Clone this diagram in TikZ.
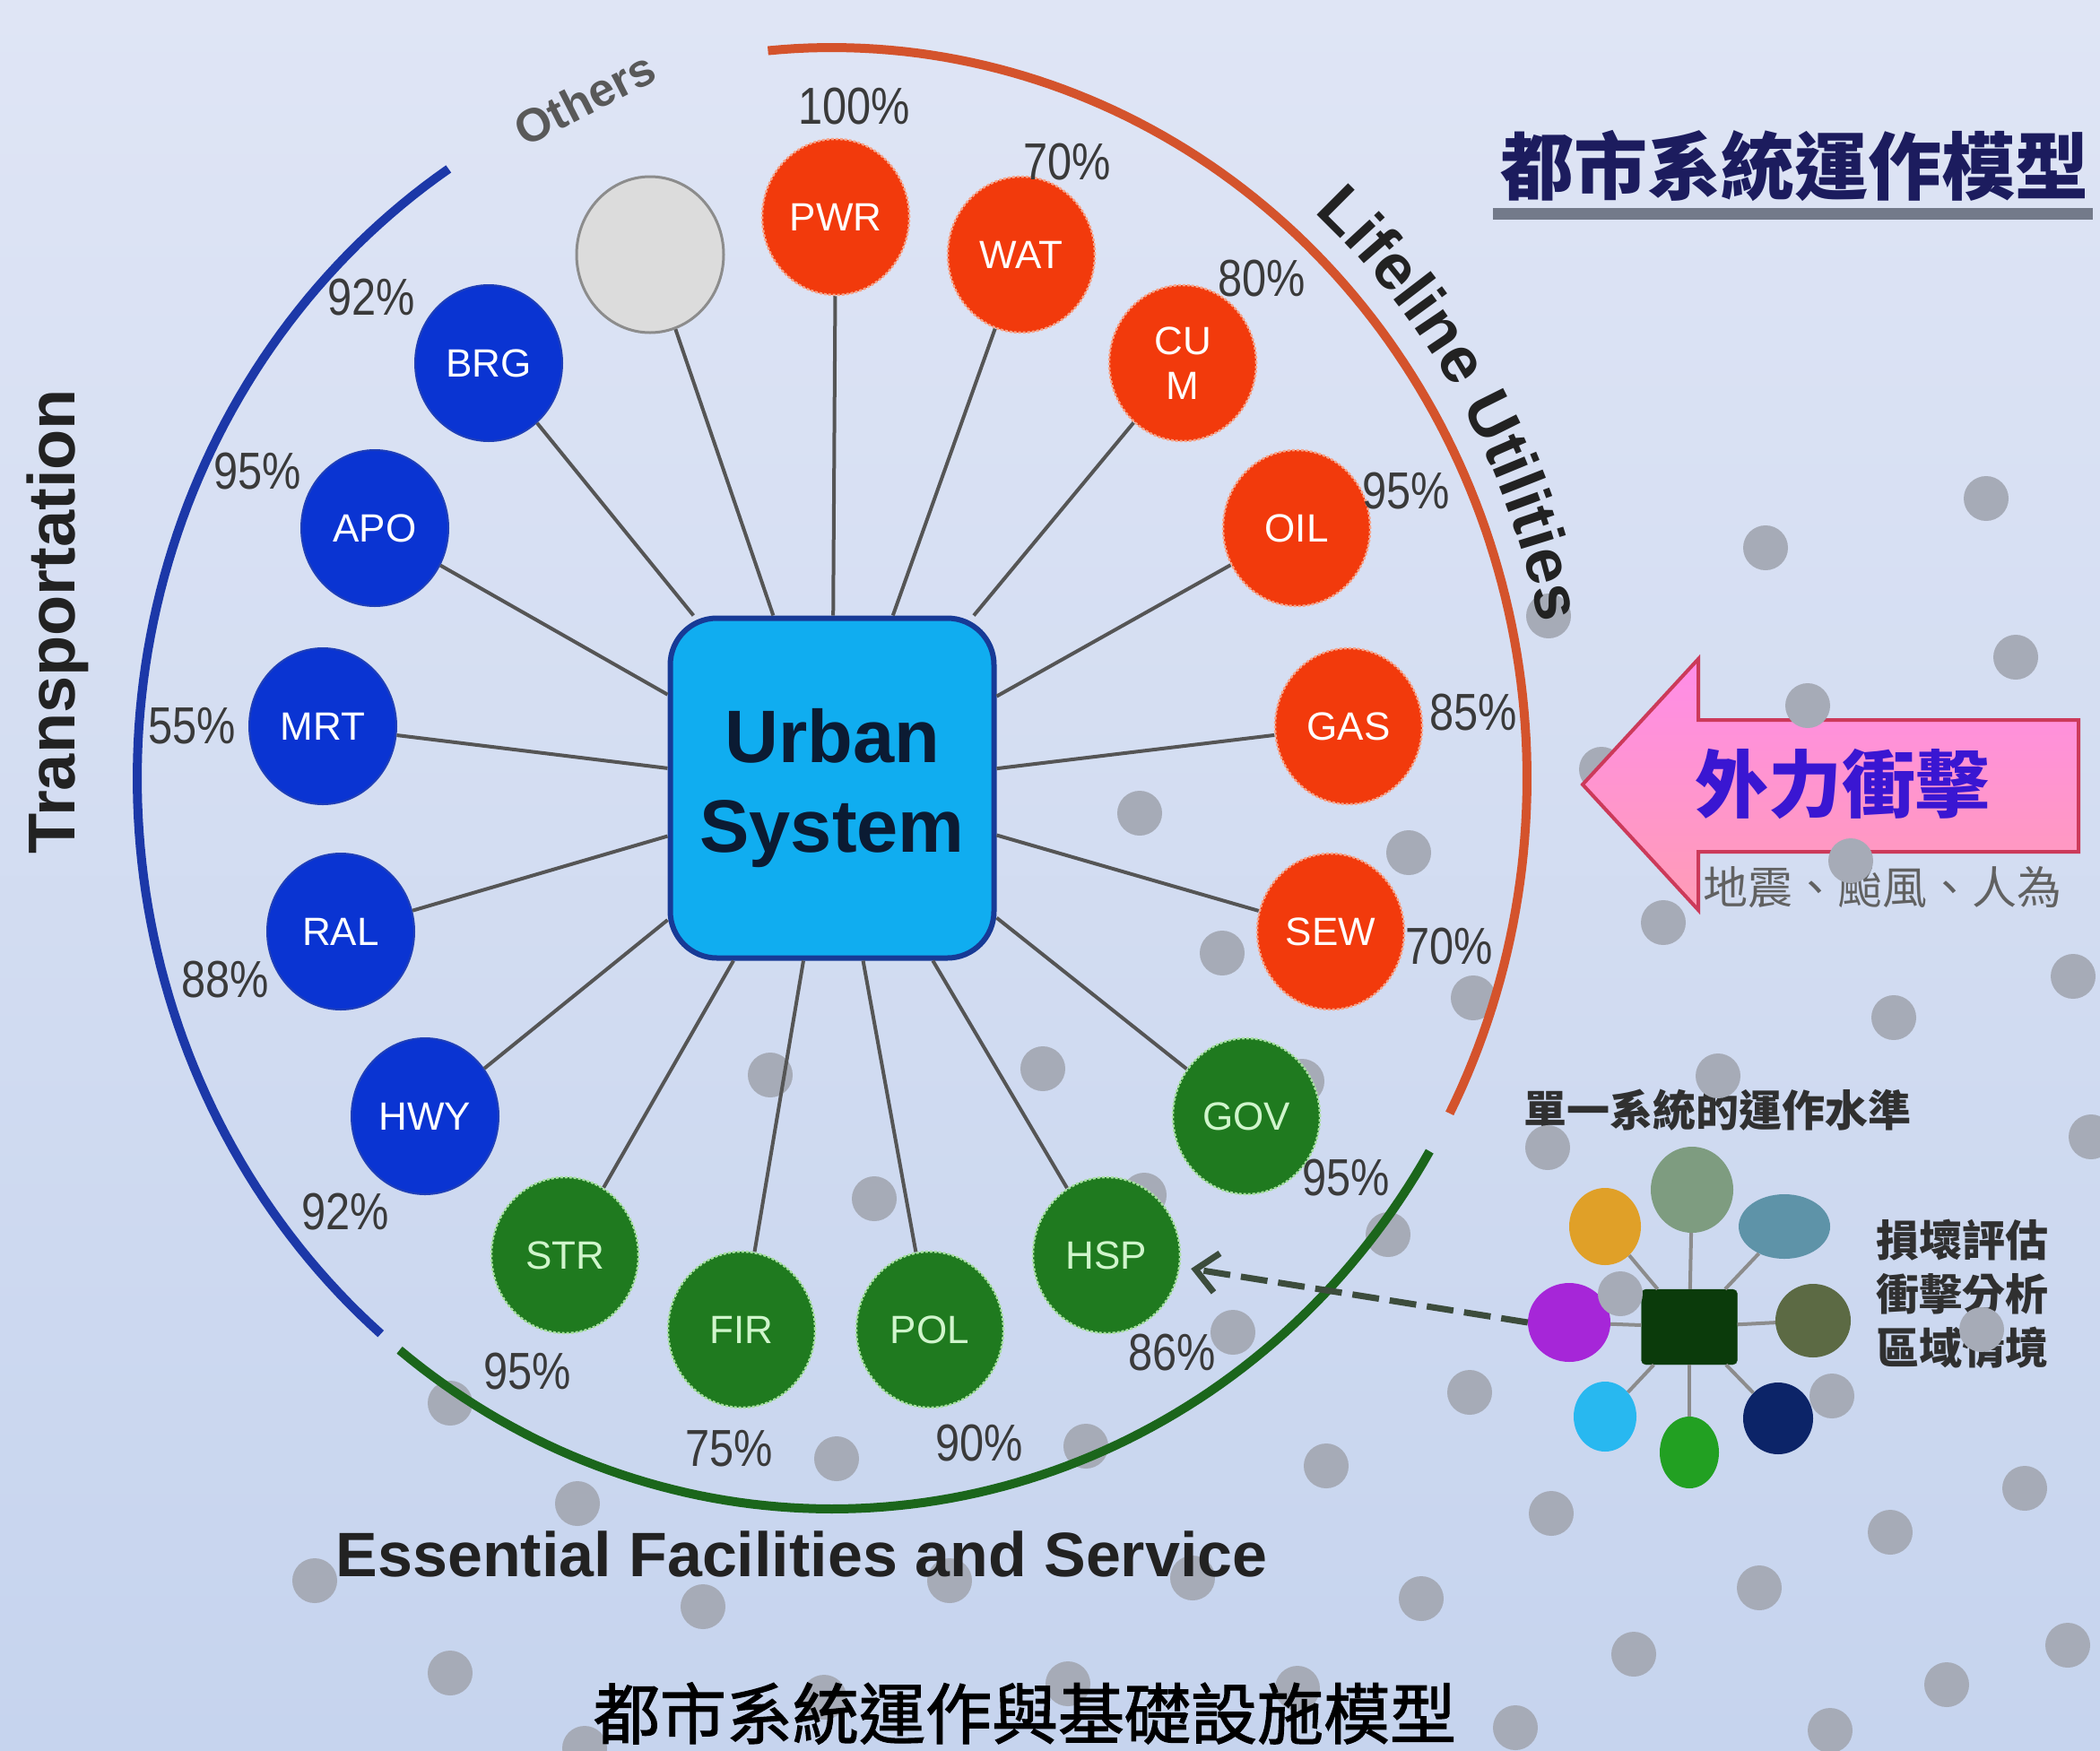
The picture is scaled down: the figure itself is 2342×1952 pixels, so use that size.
\documentclass[tikz,border=0pt]{standalone}
\usepackage{fontspec}
\setmainfont{Liberation Sans}
\newfontfamily\cjk{Noto Sans CJK TC}
\newfontfamily\cjkcap{Noto Sans CJK TC}[FakeBold=1.6]
\newfontfamily\narrowsans{Liberation Sans}[FakeStretch=0.84]
\usetikzlibrary{shapes.geometric,arrows.meta,decorations.text}
\newcommand\fsz[1]{\fontsize{#1}{#1}\selectfont}
\definecolor{bgTop}{HTML}{DFE5F5}
\definecolor{bgBot}{HTML}{C6D4EE}
\definecolor{cRed}{HTML}{F23A0C}
\definecolor{cRedB}{HTML}{F7A488}
\definecolor{cBlue}{HTML}{0A34D2}
\definecolor{cBlueB}{HTML}{1F3FB8}
\definecolor{cGreen}{HTML}{1F7A1F}
\definecolor{cGreenB}{HTML}{A8E0A0}
\definecolor{cGreenT}{HTML}{D0F5CC}
\definecolor{cGreyF}{HTML}{DCDCDC}
\definecolor{cGreyB}{HTML}{8C8C8C}
\definecolor{cSpoke}{HTML}{555555}
\definecolor{cPct}{HTML}{3A3A3A}
\definecolor{cDot}{HTML}{A6ABB7}
\definecolor{arcBlue}{HTML}{1C38A8}
\definecolor{arcRed}{HTML}{D4532C}
\definecolor{arcGreen}{HTML}{1B661B}
\definecolor{boxFill}{HTML}{10ADF0}
\definecolor{boxDraw}{HTML}{173A96}
\definecolor{urbanText}{HTML}{0B1B33}
\definecolor{titleNavy}{HTML}{1C1C5E}
\definecolor{arrowTop}{HTML}{FF8DE8}
\definecolor{arrowBot}{HTML}{FF9CB6}
\definecolor{arrowDraw}{HTML}{CC3A5A}
\definecolor{impactText}{HTML}{3A16D2}
\definecolor{darkText}{HTML}{222222}
\definecolor{smallText}{HTML}{303030}
\definecolor{dashCol}{HTML}{3C4C3C}
\definecolor{underBar}{HTML}{737A8A}
\definecolor{sdCoreF}{HTML}{0B3B0B}
\definecolor{sdCoreD}{HTML}{1E4E1E}
\begin{document}
\begin{tikzpicture}[x=1pt,y=-1pt,
  circ/.style={ellipse, minimum width=164pt, minimum height=174pt, inner sep=0pt, font=\fsz{44}, align=center},
  redc/.style={circ, fill=cRed, draw=cRedB, line width=2.5pt, densely dashed, text=white},
  bluec/.style={circ, fill=cBlue, draw=cBlueB, line width=2pt, text=white},
  greenc/.style={circ, fill=cGreen, draw=cGreenB, line width=2.5pt, densely dashed, text=cGreenT},
  greyc/.style={circ, fill=cGreyF, draw=cGreyB, line width=3pt},
  spoke/.style={draw=cSpoke, line width=4pt},
  pct/.style={font=\narrowsans\fsz{58}, text=cPct, inner sep=0pt},
  arcline/.style={line width=10pt},
  dotfill/.style={fill=cDot},
  sdc/.style={ellipse, inner sep=0pt},
  sdline/.style={draw=gray!90, line width=4pt},
  sdtext/.style={font=\cjk\bfseries\fontsize{48}{60}\selectfont, text=smallText, align=center, inner sep=0pt},
  dasharrow/.style={draw=dashCol, line width=7pt, dash pattern=on 30pt off 12pt, -{Straight Barb[length=24pt,width=44pt,line width=7pt]}}
]
\useasboundingbox (0,0) rectangle (2342,1952);
\shade[top color=bgTop, bottom color=bgBot] (0,0) rectangle (2342,1952);

% dot behind the arrow tip
\fill[dotfill] (1786,858) circle[radius=25pt];

% ---------- small diagram ----------
\node[sdtext] (sdTitle) at (1915,1238) {單一系統的運作水準};
\node[draw=sdCoreD, fill=sdCoreF, rounded corners=5pt, minimum width=107pt, minimum height=84pt, inner sep=0pt] (sdCore) at (1884,1480) {};
\node[sdc, fill={rgb,255:red,126;green,156;blue,128}, minimum width=92pt, minimum height=96pt] (sdA) at (1887,1327) {};
\node[sdc, fill={rgb,255:red,224;green,160;blue,40}, minimum width=80pt, minimum height=86pt] (sdB) at (1790,1368) {};
\node[sdc, fill={rgb,255:red,94;green,147;blue,168}, minimum width=102pt, minimum height=72pt] (sdC) at (1990,1368) {};
\node[sdc, fill={rgb,255:red,166;green,38;blue,216}, minimum width=92pt, minimum height=88pt] (sdD) at (1750,1475) {};
\node[sdc, fill={rgb,255:red,92;green,106;blue,68}, minimum width=84pt, minimum height=82pt] (sdE) at (2022,1473) {};
\node[sdc, fill={rgb,255:red,40;green,184;blue,240}, minimum width=70pt, minimum height=78pt] (sdF) at (1790,1580) {};
\node[sdc, fill={rgb,255:red,34;green,160;blue,34}, minimum width=66pt, minimum height=80pt] (sdG) at (1884,1620) {};
\node[sdc, fill={rgb,255:red,12;green,36;blue,104}, minimum width=78pt, minimum height=80pt] (sdH) at (1983,1582) {};
\foreach \n in {sdA,sdB,sdC,sdD,sdE,sdF,sdG,sdH}{\path[sdline] (sdCore) -- (\n);}
\node[sdtext] (sdRight) at (2188,1443) {損壞評估\\衝擊分析\\區域情境};

% ---------- impact arrow ----------
\draw[top color=arrowTop, bottom color=arrowBot, draw=arrowDraw, line width=4pt, line join=miter]
  (1765,875) -- (1894,735) -- (1894,803) -- (2318,803) -- (2318,950) -- (1894,950) -- (1894,1015) -- cycle;
\node[font=\cjk\bfseries\fsz{82}, text=impactText, inner sep=0pt] (impact) at (2054,875) {外力衝擊};
\node[font=\cjk\fsz{50}, text=black!62, inner sep=0pt] (hazards) at (2099,990) {地震、颱風、人為};

% ---------- title ----------
\node[font=\cjk\bfseries\fsz{82}, text=titleNavy, inner sep=0pt] (title) at (2001,185) {都市系統運作模型};
\fill[underBar] (1665,232) rectangle (2334,245);

% ---------- decorative dots ----------
\foreach \p in {(2215,556),(1969,611),(1727,687),(2248,733),(2016,787),(1271,907),(1571,951),(1855,1029),(2064,960),(2312,1089),(1363,1063),(2112,1135),(1643,1113),(859,1199),(1163,1192),(1916,1200),(2332,1268),(975,1337),(1726,1280),(1807,1443),(2210,1483),(1452,1206),(1276,1333),(1548,1377),(1375,1486),(1639,1553),(2043,1557),(502,1565),(933,1627),(1211,1613),(1479,1635),(644,1677),(1730,1688),(2258,1660),(2108,1709),(351,1763),(784,1792),(1059,1763),(1330,1760),(1585,1783),(1962,1771),(2306,1835),(1822,1845),(502,1866),(919,1893),(1191,1878),(1447,1883),(2171,1879),(1690,1927),(2041,1930),(652,1950)}
  {\fill[dotfill] \p circle[radius=25pt];}

% ---------- arcs ----------
\draw[arcline, draw=arcBlue] plot[domain=123.5:229.5, samples=90] ({928+775*cos(\x)},{868-815*sin(\x)});
\draw[arcline, draw=arcRed] plot[domain=-27.3:95.3, samples=110] ({928+775*cos(\x)},{868-815*sin(\x)});
\draw[arcline, draw=arcGreen] plot[domain=231.5:329.3, samples=90] ({928+775*cos(\x)},{868-815*sin(\x)});

% ---------- centre ----------
\node[draw=boxDraw, fill=boxFill, line width=6pt, rounded corners=52pt, minimum width=361pt, minimum height=379pt, inner sep=0pt, align=center, font=\fontsize{83}{100}\selectfont\bfseries, text=urbanText] (US) at (928,879) {Urban\\System};

% ---------- system nodes ----------
\node[redc]   (PWR) at (932,242)  {PWR};
\node[redc]   (WAT) at (1139,284) {WAT};
\node[redc, font=\fontsize{44}{50}\selectfont] (CUM) at (1319,405) {CU\\M};
\node[redc]   (OIL) at (1446,589) {OIL};
\node[redc]   (GAS) at (1504,810) {GAS};
\node[redc]   (SEW) at (1484,1039) {SEW};
\node[greenc] (GOV) at (1390,1245) {GOV};
\node[greenc] (HSP) at (1234,1400) {HSP};
\node[greenc] (POL) at (1037,1483) {POL};
\node[greenc] (FIR) at (827,1483) {FIR};
\node[greenc] (STR) at (630,1400) {STR};
\node[bluec]  (HWY) at (474,1245) {HWY};
\node[bluec]  (RAL) at (380,1039) {RAL};
\node[bluec]  (MRT) at (360,810)  {MRT};
\node[bluec]  (APO) at (418,589)  {APO};
\node[bluec]  (BRG) at (545,405)  {BRG};
\node[greyc]  (OTH) at (725,284)  {};

\foreach \n in {PWR,WAT,CUM,OIL,GAS,SEW,GOV,HSP,POL,FIR,STR,HWY,RAL,MRT,APO,BRG,OTH}
  {\path[spoke] (US) -- (\n);}

% ---------- percentages ----------
\node[pct] (p1)  at (953,119)   {100\%};
\node[pct] (p2)  at (1190,181)  {70\%};
\node[pct] (p3)  at (1407,311)  {80\%};
\node[pct] (p4)  at (1568,548)  {95\%};
\node[pct] (p5)  at (1643,795)  {85\%};
\node[pct] (p6)  at (1616,1056) {70\%};
\node[pct] (p7)  at (1501,1314) {95\%};
\node[pct] (p8)  at (1307,1509) {86\%};
\node[pct] (p9)  at (1092,1610) {90\%};
\node[pct] (p10) at (813,1616)  {75\%};
\node[pct] (p11) at (588,1530)  {95\%};
\node[pct] (p12) at (385,1352)  {92\%};
\node[pct] (p13) at (251,1093)  {88\%};
\node[pct] (p14) at (214,810)   {55\%};
\node[pct] (p15) at (287,526)   {95\%};
\node[pct] (p16) at (414,332)   {92\%};

% ---------- group labels ----------
\node[font=\bfseries\fsz{74}, text=darkText, rotate=90, inner sep=0pt] (transp) at (64,693) {Transportation};
\node[font=\bfseries\fsz{52}, text=black!65, rotate=27, inner sep=0pt] (othLbl) at (652,110) {Others};
\path[decorate, decoration={text along path, text align=center,
   text={|\color{darkText}\fsz{72}\bfseries|Lifeline Utilities}}]
  plot[domain=0:44, samples=60] ({928+806*cos(52-\x)},{868-848*sin(52-\x)});
\node[font=\bfseries\fsz{70}, text=darkText, anchor=base, inner sep=0pt] (efs) at (894,1758) {Essential Facilities and Service};

% ---------- caption ----------
\node[font=\cjkcap\fsz{74}, text=black, inner sep=0pt] (caption) at (1143,1911) {都市系統運作與基礎設施模型};

% ---------- dashed link ----------
\draw[dasharrow, shorten >=12pt] (sdD.west) -- (HSP);
\end{tikzpicture}
\end{document}
